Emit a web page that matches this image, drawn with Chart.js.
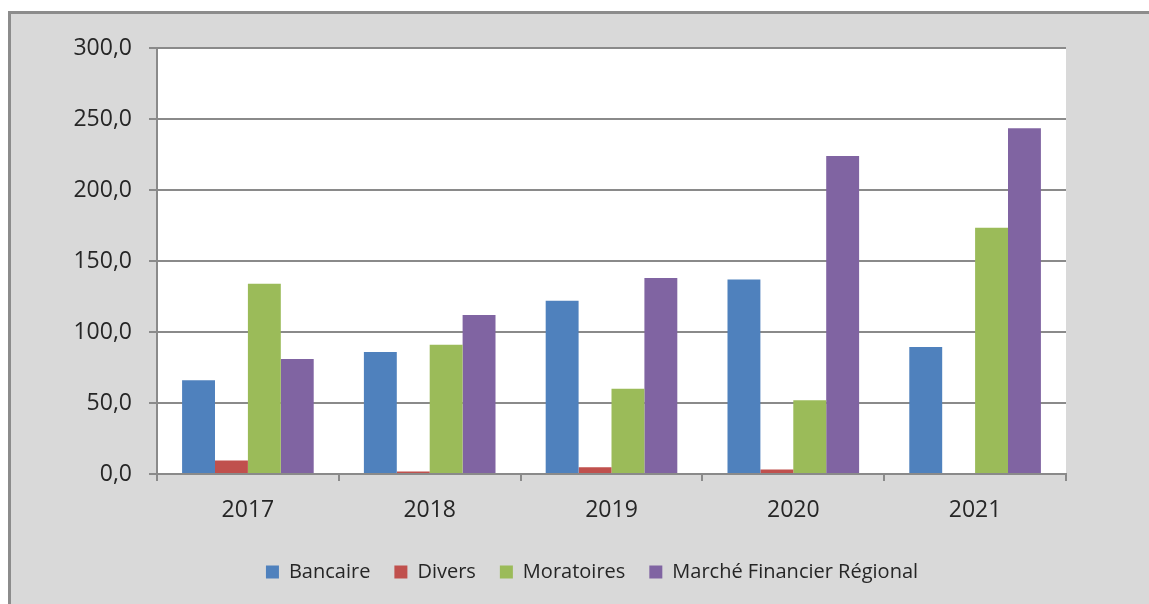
<!DOCTYPE html>
<html lang="fr">
<head>
<meta charset="utf-8">
<title>Encours par catégorie 2017-2021</title>
<script src="https://cdn.jsdelivr.net/npm/chart.js@4/dist/chart.umd.min.js"></script>
<style>
  html, body { margin: 0; padding: 0; background: #ffffff; overflow: hidden; width: 1149px; height: 604px; }
  #frame {
    position: absolute; left: 8px; top: 11px; width: 1300px; height: 700px;
    background: #d9d9d9; border-left: 3px solid #8c8c8c; border-top: 3px solid #8c8c8c;
  }
  #myChart { position: absolute; left: 0; top: 0; }
</style>
</head>
<body>
<div id="frame"></div>
<canvas id="myChart" width="1112" height="604"></canvas>
<script>
var years = ['2017', '2018', '2019', '2020', '2021'];
var bancaire = [66, 86, 122, 137, 89.5];
var divers = [9.5, 1.8, 4.8, 3.2, 0];
var moratoires = [134, 91, 60, 52, 173.5];
var marcheFinancier = [81, 112, 138, 224, 243.5];
var yTicks = [0, 50, 100, 150, 200, 250, 300];

var gridGrey = '#8a8a8a';
var textColor = '#262626';

// fond blanc de la zone de tracé
var plotBackground = {
    id: 'plotBackground',
    beforeDraw: function(chart) {
        var a = chart.chartArea;
        var ctx = chart.ctx;
        ctx.save();
        ctx.fillStyle = '#ffffff';
        ctx.fillRect(a.left, a.top, a.right - a.left, a.bottom - a.top);
        ctx.restore();
    }
};

function serie(label, data, color) {
    return {
        label: label,
        data: data,
        backgroundColor: color,
        borderWidth: 0,
        barPercentage: 1,
        categoryPercentage: 0.724,
        yAxisID: 'y'
    };
}

document.addEventListener("DOMContentLoaded", function() {
    var ctx = document.getElementById('myChart').getContext('2d');
    var myChart = new Chart(ctx, {
        type: 'bar',
        data: {
            labels: years,
            datasets: [
                serie('Bancaire', bancaire, '#4f81bd'),
                serie('Divers', divers, '#c0504d'),
                serie('Moratoires', moratoires, '#9bbb59'),
                serie('Marché Financier Régional', marcheFinancier, '#8064a2')
            ]
        },
        options: {
            responsive: false,
            animation: false,
            layout: { padding: { left: 72, right: 0, top: 48, bottom: 12 } },
            plugins: {
                tooltip: { enabled: false },
                legend: {
                    position: 'bottom',
                    labels: {
                        boxWidth: 13,
                        boxHeight: 13,
                        padding: 24,
                        color: textColor,
                        font: { family: 'Open Sans', size: 20 }
                    }
                }
            },
            scales: {
                x: {
                    offset: true,
                    grid: {
                        offset: true,
                        drawOnChartArea: false,
                        drawTicks: true,
                        tickLength: 7,
                        color: gridGrey,
                        lineWidth: 2
                    },
                    border: { color: gridGrey, width: 2 },
                    ticks: {
                        padding: 16,
                        color: textColor,
                        font: { family: 'Open Sans', size: 23 }
                    },
                    afterFit: function(scale) { scale.height = 64; }
                },
                y: {
                    position: 'left',
                    min: 0,
                    max: 300,
                    afterBuildTicks: function(scale) {
                        scale.ticks = yTicks.map(function(v) { return { value: v }; });
                    },
                    grid: {
                        color: gridGrey,
                        lineWidth: 2,
                        drawTicks: true,
                        tickLength: 8
                    },
                    border: { color: gridGrey, width: 2 },
                    ticks: {
                        padding: 17,
                        color: textColor,
                        font: { family: 'Open Sans', size: 23 },
                        callback: function(v) { return Number(v).toFixed(1).replace('.', ','); }
                    },
                    afterFit: function(scale) { scale.width = 85; }
                },
                // marge vide à droite de la zone de tracé (rien n'y est dessiné)
                marge: {
                    type: 'linear',
                    position: 'right',
                    grid: { drawOnChartArea: false, drawTicks: false },
                    border: { display: false },
                    ticks: { display: false },
                    afterFit: function(scale) { scale.width = 46; }
                }
            }
        },
        plugins: [plotBackground]
    });
});
</script>
</body>
</html>
